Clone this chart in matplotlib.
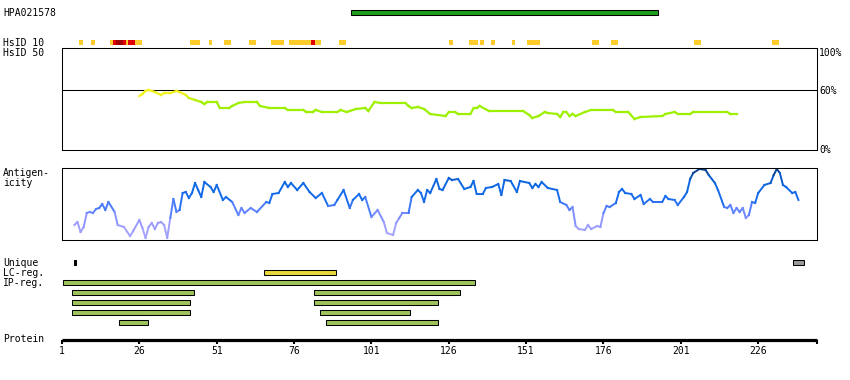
import matplotlib
matplotlib.use("Agg")
import matplotlib.pyplot as plt
import numpy as np
from matplotlib.collections import LineCollection
from matplotlib.colors import LinearSegmentedColormap, Normalize
from matplotlib.patches import Rectangle

# ---- data ----
PROT_LEN = 245
antibody = "HPA021578"
hpa_start, hpa_end = 94.4, 193.6

# HsID 10 blocks (residue start, end, level 0=low 1=mid 2=high)
hs10_start = [6.5, 10.4, 16.5, 17.6, 18.4, 20.8, 21.7, 22.3, 24.6, 42.3, 48.5, 53.3, 61.4, 68.5,
              74.3, 81.4, 82.7, 90.4, 126.2, 132.4, 136.2, 139.5, 146.3, 151.4, 172.4, 178.5, 205.3, 230.5]
hs10_end = [7.7, 11.6, 17.6, 18.4, 20.8, 21.7, 22.3, 24.6, 26.8, 45.5, 49.6, 55.6, 63.6, 72.7,
            81.4, 82.7, 84.6, 92.7, 127.5, 135.6, 137.5, 140.8, 147.5, 155.6, 174.7, 180.8, 207.6, 232.8]
hs10_level = [0, 0, 0, 1, 2, 1, 0, 1, 0, 0, 0, 0, 0, 0,
              0, 1, 0, 0, 0, 0, 0, 0, 0, 0, 0, 0, 0, 0]

# HsID 50 identity (%)
hs50_res = [26, 27, 28, 29, 31, 33, 34, 36, 38, 39, 41, 42, 44, 46, 47, 48, 51, 52, 55, 56,
            58, 60, 64, 65, 68, 73, 74, 79, 80, 82, 83, 85, 90, 91, 93, 94, 96, 99, 100, 102,
            104, 112, 113, 114, 116, 118, 120, 125, 126, 128, 129, 133, 134, 135, 136, 139, 150, 152, 153, 155,
            157, 158, 161, 162, 163, 164, 165, 166, 167, 170, 172, 179, 180, 184, 186, 188, 195, 196, 199, 200,
            204, 205, 216, 217, 219]
hs50_val = [54, 56, 59, 60, 58, 55, 57, 57, 59, 58, 55, 52, 50, 48, 46, 48, 48, 42, 42, 44,
            47, 48, 48, 44, 42, 42, 40, 40, 38, 38, 40, 38, 38, 40, 38, 39, 41, 42, 39, 48,
            47, 47, 44, 42, 43, 41, 36, 34, 38, 38, 36, 36, 42, 42, 44, 39, 39, 35, 32, 34,
            38, 37, 36, 33, 38, 38, 34, 36, 34, 38, 40, 40, 38, 38, 31, 33, 34, 36, 38, 36,
            36, 38, 38, 36, 36]

# antigenicity profile (arbitrary units)
ag_res = [5, 6, 7, 8, 9, 10, 11, 12, 13, 14,
          15, 16, 18, 19, 21, 23, 24, 26, 27, 28,
          29, 30, 31, 32, 33, 34, 35, 36, 37, 38,
          39, 40, 41, 42, 43, 44, 45, 46, 47, 49,
          50, 51, 53, 54, 56, 58, 59, 60, 62, 64,
          67, 68, 69, 71, 73, 74, 75, 77, 79, 81,
          83, 85, 87, 89, 90, 92, 94, 95, 97, 98,
          99, 101, 103, 105, 106, 108, 109, 110, 111, 113,
          114, 116, 117, 118, 119, 120, 122, 123, 124, 126,
          127, 129, 131, 133, 134, 135, 137, 138, 140, 142,
          143, 144, 146, 148, 149, 152, 153, 154, 155, 156,
          158, 161, 162, 164, 165, 166, 167, 168, 170, 171,
          172, 174, 175, 176, 177, 178, 180, 181, 182, 183,
          185, 186, 188, 189, 191, 192, 195, 196, 197, 199,
          200, 202, 203, 204, 205, 207, 209, 210, 212, 213,
          215, 216, 217, 218, 219, 220, 221, 222, 223, 224,
          225, 226, 228, 230, 231, 232, 233, 234, 235, 237,
          238, 239]
ag_val = [15, 18, 8, 13, 27, 28, 27, 31, 32, 36,
          30, 38, 28, 15, 13, 4, 9, 20, 12, 2,
          13, 17, 11, 17, 18, 15, 2, 22, 41, 28,
          30, 47, 48, 42, 47, 57, 50, 43, 58, 53,
          48, 55, 40, 43, 38, 25, 32, 27, 32, 28,
          38, 37, 46, 47, 58, 53, 57, 50, 57, 48,
          42, 47, 34, 35, 40, 50, 32, 40, 46, 40,
          43, 23, 30, 18, 7, 5, 17, 22, 27, 27,
          43, 50, 47, 38, 50, 47, 61, 51, 50, 62,
          60, 61, 51, 53, 59, 46, 46, 52, 53, 56,
          45, 60, 59, 48, 59, 57, 52, 56, 53, 58,
          52, 50, 38, 35, 30, 33, 14, 11, 10, 15,
          11, 14, 13, 27, 34, 33, 37, 48, 51, 47,
          46, 41, 45, 36, 41, 38, 38, 44, 41, 40,
          35, 43, 48, 61, 67, 71, 70, 65, 57, 50,
          33, 32, 35, 27, 32, 28, 32, 22, 25, 38,
          37, 47, 55, 57, 65, 71, 67, 55, 53, 47,
          48, 40]

unique_regions = [(5.0, 5.6, "#000000"), (237.3, 240.8, "#999999")]
lc_regions = [(66.3, 89.7)]
ip_rows = [
    [(1.4, 134.5)],
    [(4.3, 43.5), (82.4, 129.7)],
    [(4.3, 42.5), (82.4, 122.6)],
    [(4.3, 42.5), (84.4, 113.6)],
    [(19.5, 28.7), (86.3, 122.6)],
]
tick_res = [1, 26, 51, 76, 101, 126, 151, 176, 201, 226]

# ---- layout (pixels) ----
W, H = 850, 380
X0, X1 = 62, 817
PX = (X1 - X0) / (PROT_LEN - 1)
FONT = dict(family="DejaVu Sans Mono", fontsize=7, color="black")
LW = 0.75


def px2res(px):
    return 1 + (px - X0) / PX


fig = plt.figure(figsize=(W / 100, H / 100), dpi=100)
ax = fig.add_axes([0, 0, 1, 1])
ax.set_xlim(px2res(0), px2res(W))
ax.set_ylim(H, 0)
ax.axis("off")


def box_axes(top, bottom):
    a = fig.add_axes([X0 / W, 1 - bottom / H, (X1 - X0) / W, (bottom - top) / H])
    a.set_xlim(1, PROT_LEN)
    a.set_xticks([])
    a.set_yticks([])
    for s in a.spines.values():
        s.set_linewidth(LW)
    a.patch.set_alpha(0)
    return a


def bar(x0, x1, ytop, h, fc):
    ax.add_patch(Rectangle((x0, ytop), x1 - x0, h, facecolor=fc, edgecolor="black", linewidth=LW))


def colored_line(a, xs, ys, cmap, norm, lw):
    x = np.array(xs, float)
    y = np.array(ys, float)
    segs = np.stack([np.column_stack([x[:-1], y[:-1]]), np.column_stack([x[1:], y[1:]])], axis=1)
    lc = LineCollection(segs, cmap=cmap, norm=norm, linewidths=lw, capstyle="projecting")
    lc.set_array((y[:-1] + y[1:]) / 2)
    a.add_collection(lc)


# antibody bar
ax.text(px2res(3), 12.5, antibody, va="center", ha="left", **FONT)
bar(hpa_start, hpa_end, 9.8, 4.8, "#1e9e1e")

# HsID 10 track
hs10_colors = ["#ffcc2c", "#e00000", "#a00000"]
for s, e, lv in zip(hs10_start, hs10_end, hs10_level):
    ax.add_patch(Rectangle((s, 40), e - s, 5, facecolor=hs10_colors[lv], edgecolor="none"))
ax.text(px2res(3), 42.5, "HsID 10", va="center", ha="left", **FONT)
ax.text(px2res(3), 52.5, "HsID 50", va="center", ha="left", **FONT)

# HsID 50 box
ax_hs = box_axes(48, 150)
ax_hs.set_ylim(0, 102)
ax_hs.axhline(60, color="black", lw=LW)
hs_cmap = LinearSegmentedColormap.from_list("hs", ["#9cf000", "#f2f21c"])
colored_line(ax_hs, hs50_res, hs50_val, hs_cmap, Normalize(47, 55), 1.6)
for lab, yy in [("100%", 53), ("60%", 91), ("0%", 150)]:
    ax.text(px2res(819), yy, lab, va="center", ha="left", **FONT)

# antigenicity box
ax_ag = box_axes(168, 240)
ax_ag.set_ylim(0, 72)
ag_cmap = LinearSegmentedColormap.from_list(
    "ag", [(0.0, "#aaaaff"), (0.25, "#9999ff"), (0.42, "#5f82ff"), (0.56, "#1a6cee"),
           (0.8, "#0a66e0"), (0.9, "#0a4fb0"), (1.0, "#0a3a78")])
colored_line(ax_ag, ag_res, ag_val, ag_cmap, Normalize(0, 72), 1.4)
ax.text(px2res(3), 173, "Antigen-", va="center", ha="left", **FONT)
ax.text(px2res(3), 183.5, "icity", va="center", ha="left", **FONT)

# feature tracks
ax.text(px2res(3), 263, "Unique", va="center", ha="left", **FONT)
ax.text(px2res(3), 273, "LC-reg.", va="center", ha="left", **FONT)
ax.text(px2res(3), 283, "IP-reg.", va="center", ha="left", **FONT)
for s, e, c in unique_regions:
    bar(s, e, 260.2, 4.4, c)
for s, e in lc_regions:
    bar(s, e, 270.2, 4.4, "#e8d83a")
for i, row in enumerate(ip_rows):
    for s, e in row:
        bar(s, e, 280.2 + 10 * i, 4.4, "#9fc35a")

# protein axis
ax.text(px2res(3), 339.5, "Protein", va="center", ha="left", **FONT)
ax.hlines(340, 1, PROT_LEN, color="black", lw=2.3)
ax.vlines(tick_res + [PROT_LEN], 340, 344, color="black", lw=1.5)
for t in tick_res:
    ax.text(t, 351, str(t), va="center", ha="center", **FONT)

fig.savefig("out.png", dpi=100)
